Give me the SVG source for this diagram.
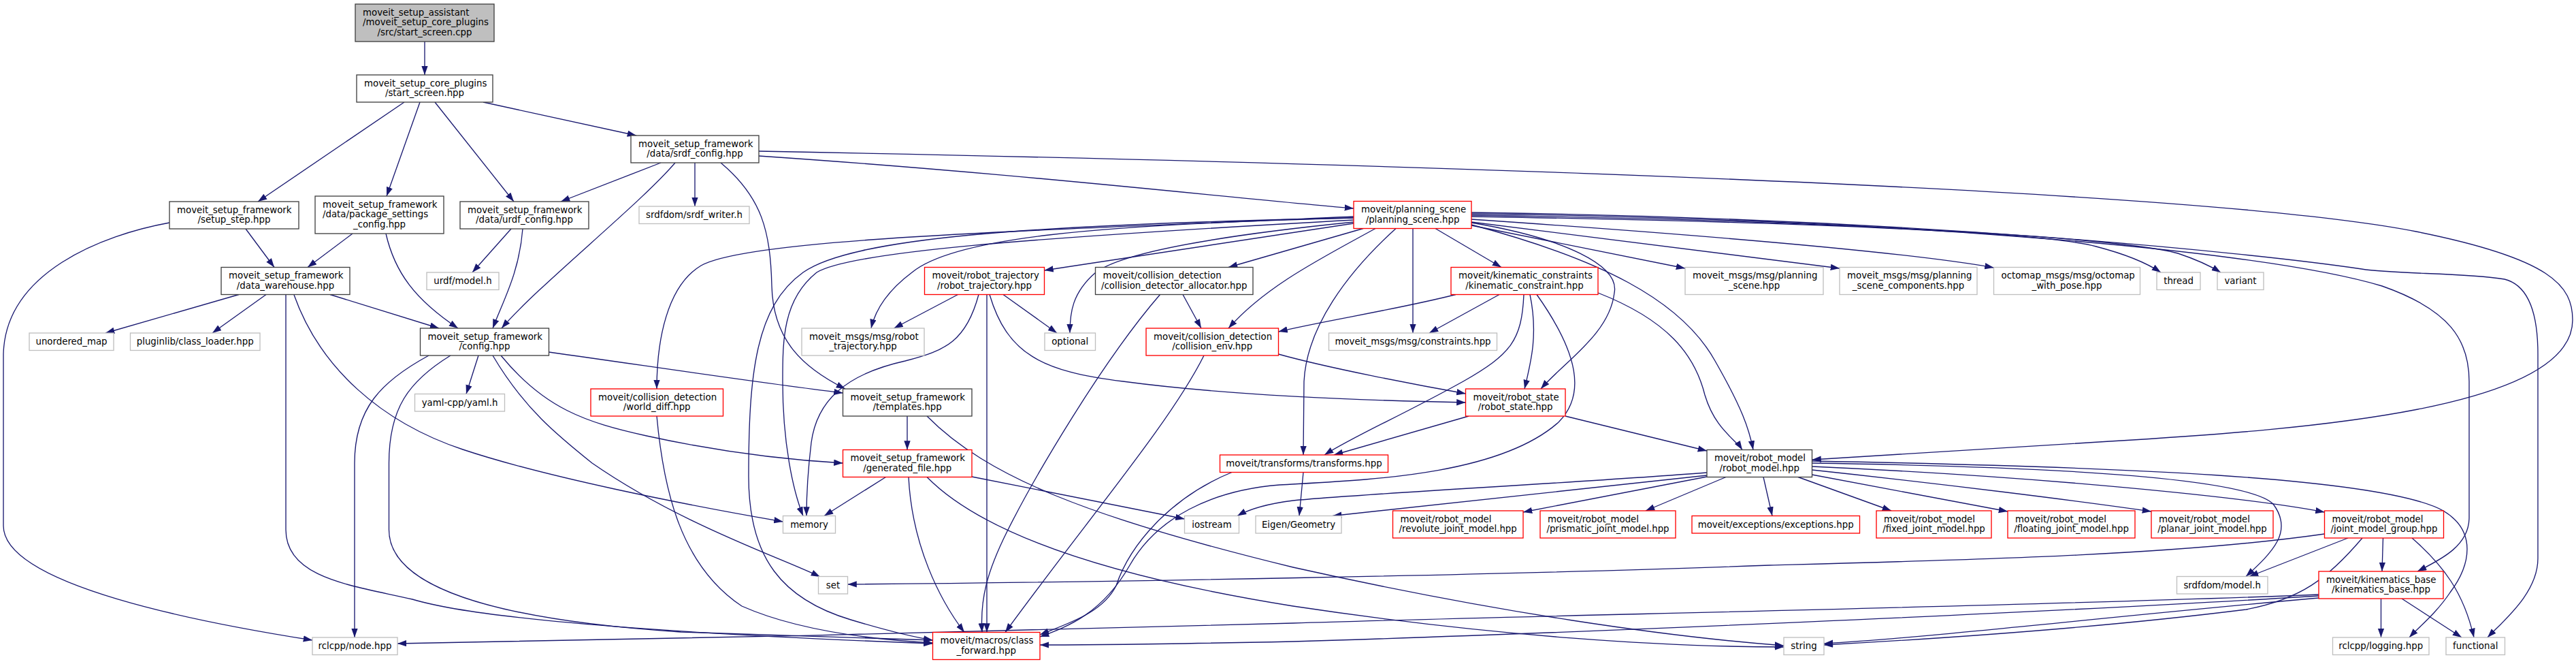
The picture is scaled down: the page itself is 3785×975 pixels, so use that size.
<svg xmlns="http://www.w3.org/2000/svg" width="3785" height="975" viewBox="0 0 3785 975">
<style>
rect{fill:#fff;stroke-width:1.33}
.b rect{stroke:#404040}
.g rect{stroke:#bfbfbf}
.r rect{stroke:#ff0000}
.root rect{fill:#bfbfbf;stroke:#404040}
text{font-family:"DejaVu Sans","Liberation Sans",sans-serif;font-size:13.33px;fill:#000}
.c{text-anchor:middle}
#edges path{fill:none;stroke:#191970;stroke-width:1.33;marker-end:url(#a)}
</style>
<defs>
<marker id="a" markerUnits="userSpaceOnUse" markerWidth="14" markerHeight="10" refX="13.3" refY="4.7" orient="auto"><path d="M0,0 L13.3,4.7 L0,9.4z" fill="#191970"/></marker>
</defs>
<rect x="0" y="0" width="3785" height="975" style="fill:#fff;stroke:none"/>
<g id="edges">
<path d="M624,61 L624,110"/>
<path d="M594,150 L379,296"/>
<path d="M617,150 L568,288"/>
<path d="M639,150 L755,296"/>
<path d="M710,150 L935,199"/>
<path d="M361,336 L403,392.5"/>
<path d="M249,327 C150,345 8,400 5,520 L5,772 C5,860 300,915 459,940"/>
<path d="M518,343 L452,392.5"/>
<path d="M567,343 C580,400 610,440 673,482"/>
<path d="M751,336 L694,400"/>
<path d="M768,336 C763,400 740,440 724,482"/>
<path d="M971,239 L824,296"/>
<path d="M992,239 C940,300 790,420 737,482"/>
<path d="M1021,239 L1021,303"/>
<path d="M1059,239 C1120,290 1132,340 1134,420 C1136,500 1180,540 1242,571"/>
<path d="M1115,229 C1500,255 1800,290 1989,306"/>
<path d="M1115,222 C1800,235 3200,270 3550,340 C3750,380 3780,420 3780,470 C3780,600 3400,630 3100,648 C2900,660 2750,670 2662.5,675"/>
<path d="M351,432.5 L155,489"/>
<path d="M391,432.5 L312,489"/>
<path d="M485,432.5 L645,482"/>
<path d="M432,433 C470,540 560,620 680,660 C800,700 1000,740 1150.5,766"/>
<path d="M420,432.5 L420,778 C420,850 520,860 606,880 C720,915 1100,935 1370.5,945"/>
<path d="M630,522 C560,560 521,600 521,680 L521,936"/>
<path d="M662,522 C600,560 571.5,600 571.5,680 L571.5,778 C571.5,880 800,915 1000,928 C1200,935 1300,938 1370.5,940"/>
<path d="M703,522 L685,578.5"/>
<path d="M724,522 C770,600 820,640 870,680 C1000,770 1150,820 1205,847"/>
<path d="M736,522 C800,600 860,620 950,640 C1050,662 1150,675 1238.5,680"/>
<path d="M806.5,517 C950,537 1100,560 1238.5,577"/>
<path d="M1333,611 L1333,660.5"/>
<path d="M1362,611 C1450,700 1600,760 1900,833 C2200,900 2450,935 2621,948"/>
<path d="M1301.5,700.5 L1211,757.5"/>
<path d="M1335,700.5 C1340,800 1380,880 1417,928.5"/>
<path d="M1428,700 L1740.5,762"/>
<path d="M1362,700.5 C1450,790 1650,850 1900,890 C2200,935 2450,950 2621,950"/>
<path d="M965,611 C975,720 1000,830 1090,890 C1180,930 1300,940 1370.5,944"/>
<path d="M1989,318 C1500,340 1100,350 1030,390 C980,420 965,500 965,571"/>
<path d="M1989,328 L1534.5,397"/>
<path d="M1989,320 C1600,330 1400,350 1340,400 C1300,430 1285,460 1280,482"/>
<path d="M1989,323 C1500,350 1250,370 1200,400 C1150,440 1150,500 1150,560 C1150,650 1165,720 1180,757.5"/>
<path d="M1989,320 C1500,330 1250,350 1180,400 C1110,450 1100,550 1100,700 C1100,820 1150,880 1250,910 C1300,925 1340,935 1370.5,940"/>
<path d="M1989,326 C1800,345 1650,370 1610,400 C1575,430 1572,460 1572,489"/>
<path d="M2003,335.5 L1805,392.5"/>
<path d="M2021,335.5 C1940,380 1860,420 1805,482"/>
<path d="M2109,335.5 L2206,392.5"/>
<path d="M2076,335.5 L2076,489"/>
<path d="M2162,327 C2300,350 2380,390 2372,430 C2365,490 2300,530 2264,571"/>
<path d="M2051,335.5 C1980,400 1920,480 1916,560 L1915,668"/>
<path d="M2162,330 C2350,380 2470,440 2520,530 C2560,600 2570,630 2576,660.5"/>
<path d="M2162,331 L2476,394"/>
<path d="M2162,326 L2703,394"/>
<path d="M2162,322 C2500,345 2800,370 2929.5,393"/>
<path d="M2162,318 C2600,325 3000,340 3080,362 C3130,375 3160,390 3175,400"/>
<path d="M2162,316 C2600,322 3100,345 3200,372 C3230,382 3250,392 3263,400"/>
<path d="M2162,314 C2700,320 3300,360 3500,420 C3600,455 3628,500 3628,560 L3628,760 C3628,800 3590,820 3552,839"/>
<path d="M2162,312 C2800,320 3300,370 3470,395 C3520,403 3620,400 3680,410 C3720,420 3729,470 3729,520 L3729,820 C3729,870 3680,910 3655,936"/>
<path d="M1407.5,432.5 L1313.5,482"/>
<path d="M1474,432.5 L1553,489"/>
<path d="M1438,432.5 C1420,500 1390,515 1330,530 C1240,550 1200,590 1192,650 C1186,700 1185,730 1185,757.5"/>
<path d="M1450,432.5 L1450,928.5"/>
<path d="M1454,432.5 C1480,520 1530,545 1650,560 C1800,580 2000,588 2153.5,591"/>
<path d="M1738,432.5 L1765,482"/>
<path d="M1704.5,432.5 C1620,530 1520,700 1480,780 C1450,840 1440,880 1443,928.5"/>
<path d="M1769,522 C1720,620 1600,760 1477,928.5"/>
<path d="M1878.5,520 C1950,540 2080,565 2153.5,578"/>
<path d="M2139,432.5 C2050,455 1950,470 1878.5,487"/>
<path d="M2203,432.5 L2100,489"/>
<path d="M2239,432.5 C2236,500 2220,520 2150,560 C2060,610 1990,640 1946,668"/>
<path d="M2248,432.5 C2260,490 2250,530 2240,571"/>
<path d="M2258,432.5 C2320,520 2330,580 2290,620 C2200,700 2000,705 1880,712 C1780,720 1700,760 1660,830 C1620,900 1570,920 1528,935"/>
<path d="M2348,430 C2450,470 2490,520 2505,580 C2520,630 2550,645 2560,660.5"/>
<path d="M2158,611 L1960,668"/>
<path d="M2300,611 L2508,662"/>
<path d="M1915,693.5 L1909,757.5"/>
<path d="M1810,693.5 C1720,730 1660,800 1640,860 C1620,900 1570,915 1528,932"/>
<path d="M2508,694 C2300,710 2000,725 1900,735 C1860,740 1835,748 1818,757.5"/>
<path d="M2508,698 L1958,757.5"/>
<path d="M2508,700 L2238,752"/>
<path d="M2536,700.5 L2418,750"/>
<path d="M2591,700.5 L2604,757.5"/>
<path d="M2642,700.5 L2779,750"/>
<path d="M2662.5,697 L2950,751"/>
<path d="M2662.5,690 C2850,710 3050,735 3161,751"/>
<path d="M2662.5,685 C3000,700 3300,730 3415.5,752"/>
<path d="M2662.5,680 C3000,685 3300,700 3340,740 C3370,780 3340,810 3300,846.5"/>
<path d="M2662.5,677 C3100,685 3500,700 3590,750 C3640,780 3630,830 3600,870 C3580,900 3555,920 3540,936"/>
<path d="M3415.5,784 C3200,815 2900,822 2600,830 C2200,845 1600,855 1245.5,858"/>
<path d="M3450,790 L3305,846.5"/>
<path d="M3501.5,790 L3500,839"/>
<path d="M3544,790 C3590,830 3620,870 3635,936"/>
<path d="M3471,790 C3420,850 3380,880 3300,895 C3100,920 2900,935 2680,947"/>
<path d="M3498.5,879 L3498.5,936"/>
<path d="M3529,879 L3617,936"/>
<path d="M3407,873 C3000,890 2200,905 1900,915 C1500,928 1000,937 584,945"/>
<path d="M3407,875 C3000,900 2300,930 1900,942 C1700,946 1600,947 1528,947"/>
<path d="M3407,878 C3100,905 2850,935 2680,945"/>
</g>
<g id="n_root" class="root"><rect x="522" y="6" width="204" height="55"/><text x="533" y="22.7">moveit_setup_assistant</text><text x="533" y="37.4">/moveit_setup_core_plugins</text><text class="c" x="624" y="52">/src/start_screen.cpp</text></g>
<g id="n_start" class="b"><rect x="524" y="110" width="200" height="40"/><text x="535" y="126.7">moveit_setup_core_plugins</text><text class="c" x="624" y="141.4">/start_screen.hpp</text></g>
<g id="n_srdfcfg" class="b"><rect x="927" y="199" width="188" height="40"/><text x="938" y="215.7">moveit_setup_framework</text><text class="c" x="1021" y="230.4">/data/srdf_config.hpp</text></g>
<g id="n_setupstep" class="b"><rect x="249" y="296" width="190" height="40"/><text x="260" y="312.7">moveit_setup_framework</text><text class="c" x="344" y="327.4">/setup_step.hpp</text></g>
<g id="n_pkg" class="b"><rect x="463" y="288" width="189" height="55"/><text x="474" y="304.7">moveit_setup_framework</text><text x="474" y="319.4">/data/package_settings</text><text class="c" x="557.5" y="334">_config.hpp</text></g>
<g id="n_urdfcfg" class="b"><rect x="676" y="296" width="189" height="40"/><text x="687" y="312.7">moveit_setup_framework</text><text class="c" x="770.5" y="327.4">/data/urdf_config.hpp</text></g>
<g id="n_srdfwriter" class="g"><rect x="939" y="303" width="162" height="25.5"/><text class="c" x="1020" y="320">srdfdom/srdf_writer.h</text></g>
<g id="n_ps" class="r"><rect x="1989" y="295.5" width="173" height="40"/><text x="2000" y="312.2">moveit/planning_scene</text><text class="c" x="2075.5" y="326.9">/planning_scene.hpp</text></g>
<g id="n_dw" class="b"><rect x="325" y="392.5" width="189" height="40"/><text x="336" y="409.2">moveit_setup_framework</text><text class="c" x="419.5" y="423.9">/data_warehouse.hpp</text></g>
<g id="n_urdfmodel" class="g"><rect x="627" y="400" width="106" height="25.5"/><text class="c" x="680" y="417">urdf/model.h</text></g>
<g id="n_rt" class="r"><rect x="1358.5" y="392.5" width="176" height="40"/><text x="1369.5" y="409.2">moveit/robot_trajectory</text><text class="c" x="1446.5" y="423.9">/robot_trajectory.hpp</text></g>
<g id="n_cda" class="b"><rect x="1609.5" y="392.5" width="231.5" height="40"/><text x="1620.5" y="409.2">moveit/collision_detection</text><text class="c" x="1725.2" y="423.9">/collision_detector_allocator.hpp</text></g>
<g id="n_kc" class="r"><rect x="2132" y="392.5" width="216" height="40"/><text x="2143" y="409.2">moveit/kinematic_constraints</text><text class="c" x="2240" y="423.9">/kinematic_constraint.hpp</text></g>
<g id="n_mps" class="g"><rect x="2476" y="392.5" width="203" height="40"/><text x="2487" y="409.2">moveit_msgs/msg/planning</text><text class="c" x="2577.5" y="423.9">_scene.hpp</text></g>
<g id="n_mpsc" class="g"><rect x="2703" y="392.5" width="202" height="40"/><text x="2714" y="409.2">moveit_msgs/msg/planning</text><text class="c" x="2804" y="423.9">_scene_components.hpp</text></g>
<g id="n_octo" class="g"><rect x="2929.5" y="392.5" width="215" height="40"/><text x="2940.5" y="409.2">octomap_msgs/msg/octomap</text><text class="c" x="3037" y="423.9">_with_pose.hpp</text></g>
<g id="n_thread" class="g"><rect x="3169" y="400" width="64" height="25.5"/><text class="c" x="3201" y="417">thread</text></g>
<g id="n_variant" class="g"><rect x="3258" y="400" width="68" height="25.5"/><text class="c" x="3292" y="417">variant</text></g>
<g id="n_umap" class="g"><rect x="43" y="489" width="124" height="25.5"/><text class="c" x="105" y="506">unordered_map</text></g>
<g id="n_cl" class="g"><rect x="191.5" y="489" width="190.5" height="25.5"/><text class="c" x="286.7" y="506">pluginlib/class_loader.hpp</text></g>
<g id="n_config" class="b"><rect x="617.5" y="482" width="189" height="40"/><text x="628.5" y="498.7">moveit_setup_framework</text><text class="c" x="712" y="513.4">/config.hpp</text></g>
<g id="n_mrt" class="g"><rect x="1178" y="482" width="180" height="40"/><text x="1189" y="498.7">moveit_msgs/msg/robot</text><text class="c" x="1268" y="513.4">_trajectory.hpp</text></g>
<g id="n_optional" class="g"><rect x="1535" y="489" width="74.5" height="25.5"/><text class="c" x="1572.2" y="506">optional</text></g>
<g id="n_cenv" class="r"><rect x="1684" y="482" width="194.5" height="40"/><text x="1695" y="498.7">moveit/collision_detection</text><text class="c" x="1781.2" y="513.4">/collision_env.hpp</text></g>
<g id="n_constr" class="g"><rect x="1952.5" y="489" width="247" height="25.5"/><text class="c" x="2076" y="506">moveit_msgs/msg/constraints.hpp</text></g>
<g id="n_yaml" class="g"><rect x="609.5" y="578.5" width="132" height="25.5"/><text class="c" x="675.5" y="595.5">yaml-cpp/yaml.h</text></g>
<g id="n_wd" class="r"><rect x="868" y="571" width="194.5" height="40"/><text x="879" y="587.7">moveit/collision_detection</text><text class="c" x="965.2" y="602.4">/world_diff.hpp</text></g>
<g id="n_templates" class="b"><rect x="1238.5" y="571" width="189.5" height="40"/><text x="1249.5" y="587.7">moveit_setup_framework</text><text class="c" x="1333.2" y="602.4">/templates.hpp</text></g>
<g id="n_rs" class="r"><rect x="2153.5" y="571" width="146.5" height="40"/><text x="2164.5" y="587.7">moveit/robot_state</text><text class="c" x="2226.7" y="602.4">/robot_state.hpp</text></g>
<g id="n_gen" class="r"><rect x="1238.5" y="660.5" width="189.5" height="40"/><text x="1249.5" y="677.2">moveit_setup_framework</text><text class="c" x="1333.2" y="691.9">/generated_file.hpp</text></g>
<g id="n_tf" class="r"><rect x="1792.5" y="668" width="247" height="25.5"/><text class="c" x="1916" y="685">moveit/transforms/transforms.hpp</text></g>
<g id="n_rm" class="b"><rect x="2508" y="660.5" width="154.5" height="40"/><text x="2519" y="677.2">moveit/robot_model</text><text class="c" x="2585.2" y="691.9">/robot_model.hpp</text></g>
<g id="n_memory" class="g"><rect x="1150.5" y="757.5" width="77" height="25.5"/><text class="c" x="1189" y="774.5">memory</text></g>
<g id="n_iostream" class="g"><rect x="1740.5" y="757.5" width="80" height="25.5"/><text class="c" x="1780.5" y="774.5">iostream</text></g>
<g id="n_eigen" class="g"><rect x="1845" y="757.5" width="126" height="25.5"/><text class="c" x="1908" y="774.5">Eigen/Geometry</text></g>
<g id="n_rev" class="r"><rect x="2046.5" y="750" width="191.5" height="40"/><text x="2057.5" y="766.7">moveit/robot_model</text><text class="c" x="2142.2" y="781.4">/revolute_joint_model.hpp</text></g>
<g id="n_pri" class="r"><rect x="2263" y="750" width="199" height="40"/><text x="2274" y="766.7">moveit/robot_model</text><text class="c" x="2362.5" y="781.4">/prismatic_joint_model.hpp</text></g>
<g id="n_exc" class="r"><rect x="2486" y="757.5" width="246.5" height="25.5"/><text class="c" x="2609.2" y="774.5">moveit/exceptions/exceptions.hpp</text></g>
<g id="n_fixed" class="r"><rect x="2757" y="750" width="169" height="40"/><text x="2768" y="766.7">moveit/robot_model</text><text class="c" x="2841.5" y="781.4">/fixed_joint_model.hpp</text></g>
<g id="n_float" class="r"><rect x="2950" y="750" width="187" height="40"/><text x="2961" y="766.7">moveit/robot_model</text><text class="c" x="3043.5" y="781.4">/floating_joint_model.hpp</text></g>
<g id="n_planar" class="r"><rect x="3161" y="750" width="179" height="40"/><text x="3172" y="766.7">moveit/robot_model</text><text class="c" x="3250.5" y="781.4">/planar_joint_model.hpp</text></g>
<g id="n_jmg" class="r"><rect x="3415.5" y="750" width="175" height="40"/><text x="3426.5" y="766.7">moveit/robot_model</text><text class="c" x="3503" y="781.4">/joint_model_group.hpp</text></g>
<g id="n_set" class="g"><rect x="1202.5" y="846.5" width="43" height="25.5"/><text class="c" x="1224" y="863.5">set</text></g>
<g id="n_srdfmodel" class="g"><rect x="3198.5" y="846.5" width="133.5" height="25.5"/><text class="c" x="3265.2" y="863.5">srdfdom/model.h</text></g>
<g id="n_kb" class="r"><rect x="3407" y="839" width="183" height="40"/><text x="3418" y="855.7">moveit/kinematics_base</text><text class="c" x="3498.5" y="870.4">/kinematics_base.hpp</text></g>
<g id="n_node" class="g"><rect x="459" y="936" width="125" height="25.5"/><text class="c" x="521.5" y="953">rclcpp/node.hpp</text></g>
<g id="n_cf" class="r"><rect x="1370.5" y="928.5" width="157.5" height="40"/><text x="1381.5" y="945.2">moveit/macros/class</text><text class="c" x="1449.2" y="959.9">_forward.hpp</text></g>
<g id="n_string" class="g"><rect x="2621" y="936" width="59" height="25.5"/><text class="c" x="2650.5" y="953">string</text></g>
<g id="n_logging" class="g"><rect x="3427.5" y="936" width="141.5" height="25.5"/><text class="c" x="3498.2" y="953">rclcpp/logging.hpp</text></g>
<g id="n_functional" class="g"><rect x="3594" y="936" width="86.5" height="25.5"/><text class="c" x="3637.2" y="953">functional</text></g>
</svg>
